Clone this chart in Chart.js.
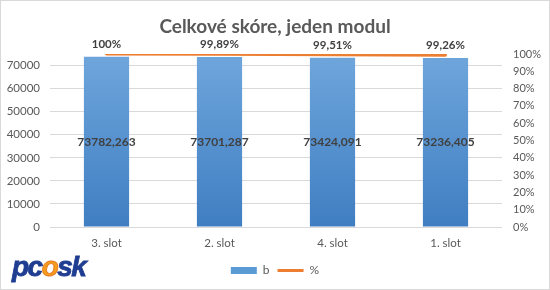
<!DOCTYPE html>
<html>
<head>
<meta charset="utf-8">
<script src="https://cdn.jsdelivr.net/npm/chart.js@4/dist/chart.umd.min.js"></script>
<style>
  html, body { margin: 0; padding: 0; background: #fff; }
  #wrap { position: relative; width: 550px; height: 290px; }
  #logo { position: absolute; left: 12px; top: 252px; font: italic 900 28px "Liberation Sans", Arial, sans-serif; color: #1f3d91; letter-spacing: -1.5px; line-height: 30px; -webkit-text-stroke: 0.8px #1f3d91; }
  #logo .f { color: #f39c1e; -webkit-text-stroke: 0.8px #e8741a; }
</style>
</head>
<body>
<div id="wrap">
  <canvas id="c" width="550" height="290"></canvas>
  <div id="logo">pc<span class="f">o</span>sk</div>
</div>
<script>
const categories = ["3. slot", "2. slot", "4. slot", "1. slot"];
const scoreValues = [73782.263, 73701.287, 73424.091, 73236.405];
const percentValues = [100, 99.89, 99.51, 99.26];
const leftTicks = [0, 10000, 20000, 30000, 40000, 50000, 60000, 70000];
const rightTicks = [0, 10, 20, 30, 40, 50, 60, 70, 80, 90, 100];
const seriesNames = ["b", "%"];
const chartTitle = "Celkové skóre, jeden modul";

const FONT = "Lato, 'Open Sans', sans-serif";
const TEXT = "#595959";
const DARK = "#404040";
const BLUE = "#5b9bd5";
const ORANGE = "#ed7d31";

function fmtNum(v) { return v.toFixed(3).replace('.', ','); }
function fmtPct(v) { return (Number.isInteger(v) ? String(v) : v.toFixed(2).replace('.', ',')) + '%'; }

const framePlugin = {
  id: 'frame',
  beforeDraw(chart) {
    const ctx = chart.ctx;
    ctx.save();
    ctx.fillStyle = '#fff';
    ctx.fillRect(0, 0, chart.width, chart.height);
    ctx.strokeStyle = '#d9d9d9';
    ctx.lineWidth = 1;
    ctx.strokeRect(0.5, 0.5, chart.width - 1, chart.height - 1);
    ctx.restore();
  }
};

const labelPlugin = {
  id: 'valueLabels',
  afterDatasetsDraw(chart) {
    const ctx = chart.ctx;
    ctx.save();
    ctx.textAlign = 'center';
    ctx.textBaseline = 'middle';
    ctx.fillStyle = DARK;
    ctx.font = "bold 12px " + FONT;
    const barMeta = chart.getDatasetMeta(0);
    barMeta.data.forEach((el, i) => {
      const y = (el.y + el.base) / 2;
      ctx.fillText(fmtNum(scoreValues[i]), el.x, y);
    });
    ctx.font = "bold 11.5px " + FONT;
    const lineMeta = chart.getDatasetMeta(1);
    lineMeta.data.forEach((el, i) => {
      ctx.fillText(fmtPct(percentValues[i]), el.x, el.y - 10);
    });
    ctx.restore();
  }
};

const ctx = document.getElementById('c').getContext('2d');
new Chart(ctx, {
  data: {
    labels: categories,
    datasets: [
      {
        type: 'bar',
        label: seriesNames[0],
        data: scoreValues,
        yAxisID: 'y',
        order: 2,
        backgroundColor: (c) => {
          const area = c.chart.chartArea;
          if (!area) return BLUE;
          const g = c.chart.ctx.createLinearGradient(0, area.top, 0, area.bottom);
          g.addColorStop(0, '#6fa6dc');
          g.addColorStop(1, '#3f7ec2');
          return g;
        },
        borderWidth: 0,
        categoryPercentage: 1,
        barPercentage: 0.4,
        pointStyle: 'rect'
      },
      {
        type: 'line',
        label: seriesNames[1],
        data: percentValues,
        yAxisID: 'y1',
        order: 1,
        borderColor: ORANGE,
        backgroundColor: ORANGE,
        borderWidth: 3,
        borderCapStyle: 'round',
        pointRadius: 0,
        pointHoverRadius: 0,
        pointStyle: 'line',
        tension: 0
      }
    ]
  },
  options: {
    responsive: false,
    animation: false,
    events: [],
    layout: { padding: { left: 0, right: 0, top: 0, bottom: 3.5 } },
    plugins: {
      tooltip: { enabled: false },
      title: {
        display: true,
        text: chartTitle,
        color: TEXT,
        font: { family: FONT, size: 19, weight: 'bold', lineHeight: 1.2 },
        padding: { top: 15, bottom: 16.2 }
      },
      legend: {
        position: 'bottom',
        labels: {
          usePointStyle: true,
          pointStyleWidth: 26,
          boxHeight: 7,
          padding: 8,
          color: TEXT,
          font: { family: FONT, size: 12 },
          generateLabels: () => [
            { text: seriesNames[0], fillStyle: BLUE, strokeStyle: BLUE, lineWidth: 0, pointStyle: 'rect', datasetIndex: 0, fontColor: TEXT },
            { text: seriesNames[1], fillStyle: ORANGE, strokeStyle: ORANGE, lineWidth: 3, pointStyle: 'line', datasetIndex: 1, fontColor: TEXT }
          ]
        }
      }
    },
    scales: {
      x: {
        grid: { display: false, drawTicks: false },
        border: { display: false },
        ticks: { color: TEXT, font: { family: FONT, size: 11.5 }, padding: 9 },
        afterFit(s) { s.height = 29.5; }
      },
      y: {
        position: 'left',
        min: 0,
        max: 75000,
        afterBuildTicks(s) { s.ticks = leftTicks.map(v => ({ value: v })).concat([{ value: 75000 }]); },
        grid: {
          drawTicks: false,
          color: (c) => (c.tick && c.tick.value === 75000) ? 'rgba(0,0,0,0)' : '#d9d9d9',
          lineWidth: 1
        },
        border: { display: false },
        ticks: {
          color: TEXT,
          font: { family: FONT, size: 11.5 },
          padding: 10,
          callback: (v) => leftTicks.includes(v) ? String(v) : null
        },
        afterFit(s) { s.width = 50; }
      },
      y1: {
        position: 'right',
        min: 0,
        max: 100,
        afterBuildTicks(s) { s.ticks = rightTicks.map(v => ({ value: v })); },
        grid: { display: false, drawTicks: false },
        border: { display: false },
        ticks: {
          color: TEXT,
          font: { family: FONT, size: 11 },
          padding: 11,
          callback: (v) => v + '%'
        },
        afterFit(s) { s.width = 48; }
      }
    }
  },
  plugins: [framePlugin, labelPlugin]
});
</script>
</body>
</html>
